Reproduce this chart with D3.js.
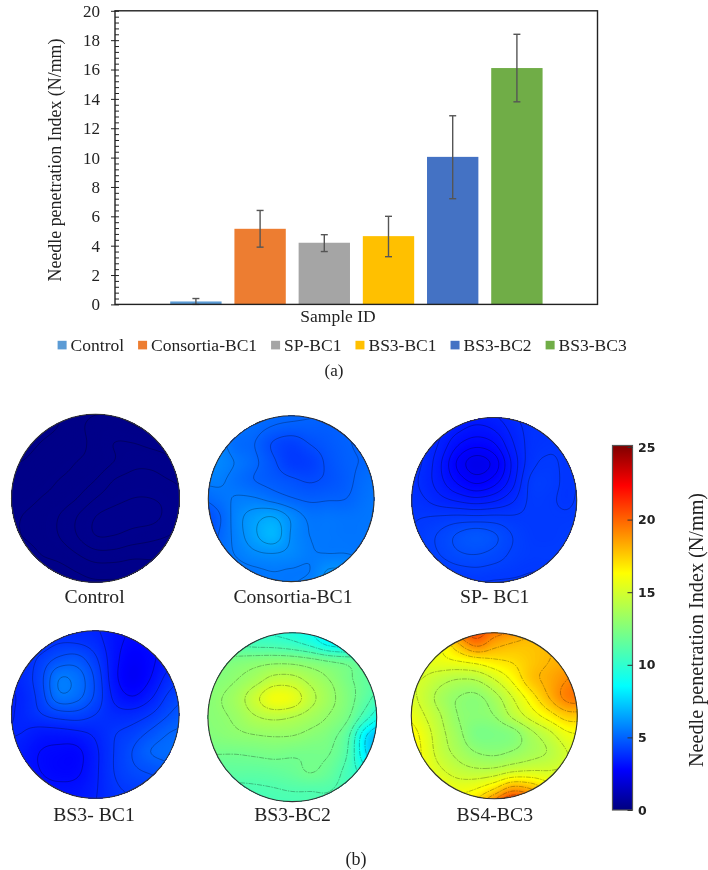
<!DOCTYPE html>
<html><head><meta charset="utf-8">
<style>html,body{margin:0;padding:0;background:#fff}svg{display:block;filter:blur(0.45px)}</style>
<script src="https://cdn.jsdelivr.net/npm/d3@7"></script></head><body>
<script>
const categories=["Control","Consortia-BC1","SP-BC1","BS3-BC1","BS3-BC2","BS3-BC3"];
const barValues=[0.2,5.15,4.2,4.65,10.05,16.1];
const errLow=[0.0,3.9,3.6,3.25,7.2,13.8];
const errHigh=[0.4,6.4,4.75,6.0,12.85,18.4];
const barColors=["#5b9bd5","#ed7d31","#a5a5a5","#ffc000","#4472c4","#70ad47"];
const yTicks=[0,2,4,6,8,10,12,14,16,18,20];
const yMinorTicks=d3.range(0,51).map(i=>i*0.4);
const mapNames=["Control","Consortia-BC1","SP- BC1","BS3- BC1","BS3-BC2","BS4-BC3"];
const mapLineSteps=[0.03,0.5,0.25,0.5,1,1];
const cbTicks=[0,5,10,15,20,25];
const jetValues=[0,2.75,8.5,16.25,22.25,25];
const jetColors=["#00007f","#0000ff","#00ffff","#ffff00","#ff0000","#7f0000"];
const mapControl=[
[.16,.16,.17,.18,.19,.2,.2,.2,.2,.2,.2],
[.16,.16,.17,.18,.2,.22,.22,.21,.2,.2,.2],
[.17,.17,.18,.19,.2,.22,.24,.24,.23,.22,.21],
[.18,.18,.19,.2,.21,.22,.24,.26,.26,.25,.24],
[.19,.19,.2,.21,.22,.24,.27,.28,.28,.27,.26],
[.19,.2,.21,.22,.24,.27,.29,.3,.3,.29,.27],
[.2,.21,.22,.24,.27,.3,.31,.31,.31,.29,.28],
[.2,.21,.22,.24,.27,.3,.3,.29,.28,.27,.26],
[.2,.2,.21,.22,.24,.26,.26,.25,.25,.25,.25],
[.2,.2,.2,.2,.21,.22,.22,.22,.22,.22,.22],
[.2,.2,.2,.2,.2,.2,.2,.2,.2,.2,.2]];
const mapConsortia=[
[5.4,5.4,5.4,5.3,5.2,5.2,5.1,5.1,5.1,5.1,5.1],
[5.5,5.5,5.4,5.2,5.0,4.9,4.9,4.9,5.0,5.1,5.2],
[5.7,5.7,5.2,5.0,4.45,4.2,4.5,4.75,4.95,5.1,5.3],
[5.8,5.8,5.45,5.1,4.6,4.1,4.15,4.6,4.9,5.05,5.3],
[5.6,5.6,5.3,5.0,4.8,4.6,4.45,4.6,4.85,5.2,5.4],
[5.0,5.3,5.55,5.55,5.3,5.05,4.9,4.95,5.0,5.3,5.5],
[4.3,4.9,5.75,6.3,6.5,5.9,5.4,5.4,5.35,5.4,5.5],
[4.3,5.0,5.7,6.4,6.85,5.95,5.5,5.45,5.4,5.4,5.4],
[4.8,5.2,5.55,5.9,6.0,5.85,5.55,5.5,5.5,5.4,5.4],
[5.2,5.2,5.3,5.4,5.5,5.45,5.5,6.05,6.0,5.6,5.4],
[5.2,5.2,5.3,5.4,5.5,5.5,5.8,6.1,6.0,5.6,5.4]];
const mapSP=[
[3.9,3.9,3.8,3.6,3.5,3.55,3.75,3.9,3.9,3.9,3.9],
[3.9,3.85,3.6,3.35,3.2,3.3,3.6,3.85,3.9,3.9,3.9],
[3.9,3.8,3.45,3.0,2.8,2.95,3.45,3.85,3.95,3.95,3.95],
[3.9,3.75,3.3,2.7,2.35,2.6,3.3,3.9,4.05,3.95,4.0],
[3.9,3.7,3.35,2.95,2.7,2.9,3.4,4.05,4.1,3.95,4.05],
[3.9,3.8,3.6,3.45,3.35,3.45,3.7,4.05,4.05,3.95,4.1],
[3.95,4.0,4.05,4.1,4.1,4.1,4.05,4.05,4.05,4.05,4.1],
[3.95,4.1,4.3,4.55,4.7,4.55,4.25,4.08,4.05,4.1,4.1],
[3.9,4.05,4.25,4.45,4.5,4.4,4.2,4.1,4.1,4.1,4.1],
[3.9,3.95,4.0,4.1,4.15,4.1,4.05,4.0,4.0,4.0,4.0],
[3.9,3.9,3.9,3.9,3.9,3.9,3.9,3.9,3.9,3.9,3.9]];
const mapBC1=[
[3.4,3.4,3.4,3.4,3.5,3.5,3.2,3.0,3.0,3.2,3.4],
[3.4,3.4,3.6,3.9,3.9,3.7,3.2,2.9,3.0,3.2,3.4],
[3.5,3.6,4.1,4.6,4.7,4.1,3.2,2.7,2.9,3.3,3.6],
[3.5,3.7,4.3,5.45,5.3,4.4,3.2,2.6,3.0,3.7,4.0],
[3.4,3.6,4.2,5.35,5.2,4.4,3.4,3.0,3.4,4.1,4.4],
[3.4,3.6,3.95,4.25,4.3,4.0,3.7,3.7,4.0,4.5,4.9],
[3.5,3.5,3.3,3.3,3.4,3.6,3.95,4.2,4.6,5.0,5.1],
[3.5,3.3,3.0,2.9,2.9,3.4,4.0,4.5,5.0,5.2,5.3],
[3.4,3.2,3.0,2.85,2.9,3.4,4.0,4.4,4.6,4.8,4.9],
[3.4,3.3,3.15,3.1,3.15,3.45,3.9,4.1,4.2,4.3,4.4],
[3.4,3.4,3.3,3.3,3.3,3.5,3.8,3.9,4.0,4.1,4.2]];
const mapBC2=[
[10,10,10,9.8,9.6,9.3,8.8,8.3,8.3,8.8,9],
[11,11,10.8,10.6,10.5,10.2,9.6,8.6,8.4,9.5,9.5],
[12.3,12.2,12.4,12.6,12.75,12.7,12.4,12.0,11.7,11.2,10.8],
[12.5,12.6,13,13.6,14.4,14.4,13.7,13,12.2,11.5,11],
[12.5,12.9,13.5,14.7,15.85,15.6,14.3,13.3,12.4,11.3,10.2],
[12.6,12.8,13.2,13.9,14.2,14,13.5,12.9,12.1,10.3,8.6],
[12.5,12.6,12.8,12.95,13.05,13,12.7,12.3,11.2,8.0,6.5],
[12,12,12,12.1,12.2,12.1,12.1,12,10.9,8.0,6.5],
[11.2,11.3,11.4,11.4,11.5,11.7,12,11.6,10.6,9.5,8.8],
[10.8,10.8,10.7,10.8,10.9,11,11,11,10.6,10,9.5],
[10.6,10.6,10.6,10.6,10.7,10.7,11,10.9,10.6,10.2,10]];
const mapBC3=[
[16,16,17,20.5,21,20,19.5,18.5,18.5,18.5,18.5],
[15.5,15.8,16,18,19.5,18.5,18,17.8,18,18.3,18.5],
[15.5,15.5,15.7,16,16.4,16.8,17.1,17.6,18,18.3,18.6],
[15,15,14.4,14,14.1,15,16.2,17.6,18.3,19,19.5],
[15.5,14.8,13.7,13,12.8,13.6,15,16.5,18,19.3,19.5],
[16,15.2,14.1,13,12.7,13,14.2,15.4,16.5,17.5,17.5],
[17,15.8,14.4,13.3,12.3,12.3,12.6,13.7,14.7,15.8,16],
[17,16,14.6,13.7,13,12.8,13.1,13.6,14.1,15,15.5],
[16.5,16,15.2,14.5,14.2,14.3,14.8,15,15,15.2,15.5],
[16,16,16,15.7,16,17,18.5,18,16.6,16,16],
[16,16,16,16.5,17.5,20,22.5,21,18,16.5,16]];
const mapGrids=[mapControl,mapConsortia,mapSP,mapBC1,mapBC2,mapBC3];

const W=708,H=870,serif='"Liberation Serif","Times New Roman",serif',ink="#222";
const svg=d3.select("body").append("svg").attr("width",W).attr("height",H).style("font-family",serif);
const defs=svg.append("defs");
// ---- bar chart
const plot={l:115,r:597.5,t:10.8,b:304.4};
const x=d3.scaleBand().domain(categories).range([163.8,549]).paddingInner(0.2).paddingOuter(0.1);
const y=d3.scaleLinear().domain([0,20]).range([plot.b,plot.t]);
const idx=categories.map((c,i)=>i);
svg.append("g").selectAll("rect").data(idx).join("rect")
 .attr("x",i=>x(categories[i])).attr("width",x.bandwidth())
 .attr("y",i=>y(barValues[i])).attr("height",i=>y(0)-y(barValues[i]))
 .attr("fill",i=>barColors[i]);
const eg=svg.append("g").attr("stroke","#555").attr("stroke-width",1.4).selectAll("g").data(idx).join("g")
 .attr("transform",i=>`translate(${x(categories[i])+x.bandwidth()/2},0)`);
eg.append("line").attr("y1",i=>y(errLow[i])).attr("y2",i=>y(errHigh[i]));
eg.append("line").attr("x1",-3.5).attr("x2",3.5).attr("y1",i=>y(errHigh[i])).attr("y2",i=>y(errHigh[i]));
eg.append("line").attr("x1",-3.5).attr("x2",3.5).attr("y1",i=>y(errLow[i])).attr("y2",i=>y(errLow[i]));
svg.append("rect").attr("x",plot.l).attr("y",plot.t).attr("width",plot.r-plot.l).attr("height",plot.b-plot.t)
 .attr("fill","none").attr("stroke","#222").attr("stroke-width",1.4);
const gy=svg.append("g").attr("transform",`translate(${plot.l},0)`);
gy.call(d3.axisRight(y).tickValues(yMinorTicks).tickSize(4).tickFormat("")).call(g=>g.select(".domain").remove());
const gy2=svg.append("g").attr("transform",`translate(${plot.l},0)`);
gy2.call(d3.axisLeft(y).tickValues(yTicks).tickSizeInner(4).tickSizeOuter(0).tickPadding(11));
gy2.select(".domain").remove();
gy2.selectAll("text").attr("font-family",serif).attr("font-size",17).attr("fill",ink);
svg.selectAll(".tick line").attr("stroke","#222");
svg.append("text").attr("transform","translate(60.5,160) rotate(-90)").attr("text-anchor","middle")
 .attr("font-size",17.9).attr("fill",ink).text("Needle penetration Index (N/mm)");
svg.append("text").attr("x",338).attr("y",321.5).attr("text-anchor","middle").attr("font-size",17.5).attr("fill",ink).text("Sample ID");
// legend
let lx=57.6;
const leg=svg.append("g");
categories.forEach((c,i)=>{
 leg.append("rect").attr("x",lx).attr("y",340.8).attr("width",9).attr("height",8.6).attr("fill",barColors[i]);
 const t=leg.append("text").attr("x",lx+13).attr("y",351).attr("font-size",17.5).attr("fill",ink).text(c);
 lx+=13+t.node().getComputedTextLength()+14;
});
svg.append("text").attr("x",334).attr("y",376).attr("text-anchor","middle").attr("font-size",17).attr("fill",ink).text("(a)");
svg.append("text").attr("x",356).attr("y",865).attr("text-anchor","middle").attr("font-size",18).attr("fill",ink).text("(b)");
// ---- contour maps
const jet=d3.scaleLinear().domain(jetValues).range(jetColors).clamp(true);
const centers=[[95.5,498.3,84],[291.2,498.7,82.9],[494.2,500,82.5],[95.3,714.5,83.8],[292.3,717.2,84.4],[494.3,715.8,83]];
const labelX=[94.6,293,494.7,94,292.5,494.7],labelY=[603,603,603,821,821,821];
const ss=8;
const cr=(a,b,c,d,t)=>b+0.5*t*(c-a+t*(2*a-5*b+4*c-d+t*(3*(b-c)+d-a)));
function fine(grid){
 const n=grid.length,N=(n-1)*ss+1,out=new Array(N*N);
 const at=(r,c)=>grid[Math.max(0,Math.min(n-1,r))][Math.max(0,Math.min(n-1,c))];
 for(let j=0;j<N;j++){const r=Math.min(Math.floor(j/ss),n-2),v=j/ss-r;
  for(let i=0;i<N;i++){const c=Math.min(Math.floor(i/ss),n-2),u=i/ss-c;
   const row=k=>cr(at(r+k,c-1),at(r+k,c),at(r+k,c+1),at(r+k,c+2),u);
   out[j*N+i]=cr(row(-1),row(0),row(1),row(2),v);}}
 return {N,out};
}
mapGrids.forEach((grid,m)=>{
 const [cx,cy,r]=centers[m],{N,out}=fine(grid),ext=1.1;
 const px=d3.scaleLinear().domain([0.5,N-0.5]).range([cx-ext*r,cx+ext*r]);
 const py=d3.scaleLinear().domain([0.5,N-0.5]).range([cy-ext*r,cy+ext*r]);
 const path=d3.geoPath(d3.geoTransform({point(a,b){this.stream.point(px(a),py(b));}}));
 const lo=d3.min(out),hi=d3.max(out);
 defs.append("clipPath").attr("id","c"+m).append("circle").attr("cx",cx).attr("cy",cy).attr("r",r);
 const g=svg.append("g").attr("clip-path",`url(#c${m})`);
 g.append("circle").attr("cx",cx).attr("cy",cy).attr("r",r).attr("fill",jet(lo));
 const fills=d3.range(lo,hi,Math.max((hi-lo)/120,0.002));
 const cont=d3.contours().size([N,N]).smooth(true);
 g.selectAll("path.f").data(cont.thresholds(fills)(out)).join("path").attr("class","f")
  .attr("d",path).attr("fill",d=>jet(d.value));
 const st=mapLineSteps[m];
 const levels=d3.range(Math.ceil(lo/st)*st,hi,st);
 g.selectAll("path.l").data(cont.thresholds(levels)(out)).join("path").attr("class","l")
  .attr("d",path).attr("fill","none").attr("stroke","#000").attr("stroke-opacity",0.34).attr("stroke-width",0.8)
  .attr("stroke-dasharray",m>=4?"5 1 1.5 1":null);
 svg.append("circle").attr("cx",cx).attr("cy",cy).attr("r",r).attr("fill","none").attr("stroke","#333").attr("stroke-width",1.1);
 svg.append("text").attr("x",labelX[m]).attr("y",labelY[m]).attr("text-anchor","middle").attr("font-size",19.7).attr("fill",ink).text(mapNames[m]);
});
// ---- colour bar
const cb=d3.scaleLinear().domain([0,25]).range([810,447]);
const grad=defs.append("linearGradient").attr("id","jet").attr("x1",0).attr("x2",0).attr("y1",1).attr("y2",0);
jetValues.forEach((v,i)=>grad.append("stop").attr("offset",v/25).attr("stop-color",jetColors[i]));
svg.append("rect").attr("x",612.5).attr("y",445.5).attr("width",20).attr("height",364.5).attr("fill","url(#jet)").attr("stroke","#555").attr("stroke-width",1.2);
const gc=svg.append("g").attr("transform","translate(632.5,0)");
gc.call(d3.axisRight(cb).tickValues(cbTicks).tickSizeInner(-5).tickSizeOuter(0).tickPadding(5.5));
gc.select(".domain").remove();
gc.selectAll("line").attr("stroke","#333");
gc.selectAll("text").attr("font-family",'"DejaVu Sans",sans-serif').attr("font-weight","bold").attr("font-size",12.5).attr("fill",ink);
svg.append("text").attr("transform","translate(703,630) rotate(-90)").attr("text-anchor","middle").attr("font-size",20.2).attr("fill",ink).text("Needle penetration Index (N/mm)");
</script></body></html>
